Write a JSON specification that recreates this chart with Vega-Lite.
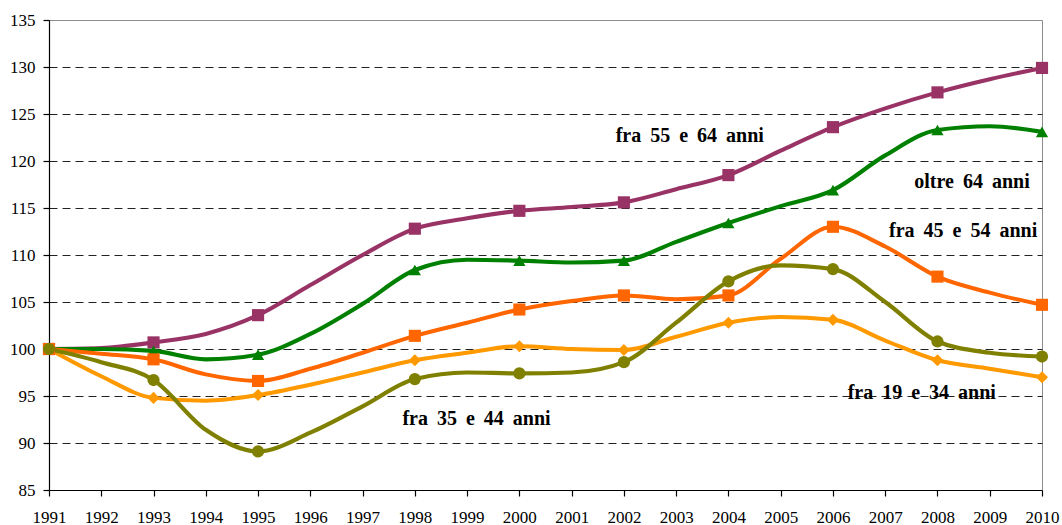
{
  "$schema": "https://vega.github.io/schema/vega-lite/v6.json",
  "autosize": "none",
  "width": 993,
  "height": 470,
  "padding": {"left": 49, "top": 20, "right": 20, "bottom": 35},
  "background": "white",
  "config": {
    "font": "Liberation Serif",
    "view": {"stroke": "#8c8c8c", "strokeWidth": 1},
    "axis": {
      "labelFont": "Liberation Serif",
      "labelFontSize": 17,
      "labelColor": "#000",
      "domainColor": "#000",
      "tickColor": "#000",
      "domainWidth": 1.2,
      "tickWidth": 1.2,
      "title": null
    },
    "text": {"font": "Liberation Serif"}
  },
  "datasets": {
    "series": [
      {"series": "fra 55 e 64 anni", "year": 1991, "value": 100},
      {"series": "fra 55 e 64 anni", "year": 1992, "value": 100.1},
      {"series": "fra 55 e 64 anni", "year": 1993, "value": 100.7},
      {"series": "fra 55 e 64 anni", "year": 1994, "value": 101.6},
      {"series": "fra 55 e 64 anni", "year": 1995, "value": 103.6},
      {"series": "fra 55 e 64 anni", "year": 1996, "value": 106.8},
      {"series": "fra 55 e 64 anni", "year": 1997, "value": 110.0},
      {"series": "fra 55 e 64 anni", "year": 1998, "value": 112.8},
      {"series": "fra 55 e 64 anni", "year": 1999, "value": 113.9},
      {"series": "fra 55 e 64 anni", "year": 2000, "value": 114.7},
      {"series": "fra 55 e 64 anni", "year": 2001, "value": 115.1},
      {"series": "fra 55 e 64 anni", "year": 2002, "value": 115.6},
      {"series": "fra 55 e 64 anni", "year": 2003, "value": 117.0},
      {"series": "fra 55 e 64 anni", "year": 2004, "value": 118.5},
      {"series": "fra 55 e 64 anni", "year": 2005, "value": 121.1},
      {"series": "fra 55 e 64 anni", "year": 2006, "value": 123.6},
      {"series": "fra 55 e 64 anni", "year": 2007, "value": 125.6},
      {"series": "fra 55 e 64 anni", "year": 2008, "value": 127.3},
      {"series": "fra 55 e 64 anni", "year": 2009, "value": 128.7},
      {"series": "fra 55 e 64 anni", "year": 2010, "value": 129.9},
      {"series": "oltre 64 anni", "year": 1991, "value": 100},
      {"series": "oltre 64 anni", "year": 1992, "value": 100.0},
      {"series": "oltre 64 anni", "year": 1993, "value": 99.8},
      {"series": "oltre 64 anni", "year": 1994, "value": 98.9},
      {"series": "oltre 64 anni", "year": 1995, "value": 99.4},
      {"series": "oltre 64 anni", "year": 1996, "value": 101.6},
      {"series": "oltre 64 anni", "year": 1997, "value": 104.8},
      {"series": "oltre 64 anni", "year": 1998, "value": 108.4},
      {"series": "oltre 64 anni", "year": 1999, "value": 109.5},
      {"series": "oltre 64 anni", "year": 2000, "value": 109.4},
      {"series": "oltre 64 anni", "year": 2001, "value": 109.2},
      {"series": "oltre 64 anni", "year": 2002, "value": 109.4},
      {"series": "oltre 64 anni", "year": 2003, "value": 111.4},
      {"series": "oltre 64 anni", "year": 2004, "value": 113.4},
      {"series": "oltre 64 anni", "year": 2005, "value": 115.2},
      {"series": "oltre 64 anni", "year": 2006, "value": 116.9},
      {"series": "oltre 64 anni", "year": 2007, "value": 120.6},
      {"series": "oltre 64 anni", "year": 2008, "value": 123.3},
      {"series": "oltre 64 anni", "year": 2009, "value": 123.7},
      {"series": "oltre 64 anni", "year": 2010, "value": 123.1},
      {"series": "fra 45 e 54 anni", "year": 1991, "value": 100},
      {"series": "fra 45 e 54 anni", "year": 1992, "value": 99.5},
      {"series": "fra 45 e 54 anni", "year": 1993, "value": 98.9},
      {"series": "fra 45 e 54 anni", "year": 1994, "value": 97.3},
      {"series": "fra 45 e 54 anni", "year": 1995, "value": 96.6},
      {"series": "fra 45 e 54 anni", "year": 1996, "value": 97.9},
      {"series": "fra 45 e 54 anni", "year": 1997, "value": 99.6},
      {"series": "fra 45 e 54 anni", "year": 1998, "value": 101.4},
      {"series": "fra 45 e 54 anni", "year": 1999, "value": 102.8},
      {"series": "fra 45 e 54 anni", "year": 2000, "value": 104.2},
      {"series": "fra 45 e 54 anni", "year": 2001, "value": 105.1},
      {"series": "fra 45 e 54 anni", "year": 2002, "value": 105.7},
      {"series": "fra 45 e 54 anni", "year": 2003, "value": 105.3},
      {"series": "fra 45 e 54 anni", "year": 2004, "value": 105.7},
      {"series": "fra 45 e 54 anni", "year": 2005, "value": 109.6},
      {"series": "fra 45 e 54 anni", "year": 2006, "value": 113.0},
      {"series": "fra 45 e 54 anni", "year": 2007, "value": 110.9},
      {"series": "fra 45 e 54 anni", "year": 2008, "value": 107.7},
      {"series": "fra 45 e 54 anni", "year": 2009, "value": 106.0},
      {"series": "fra 45 e 54 anni", "year": 2010, "value": 104.7},
      {"series": "fra 19 e 34 anni", "year": 1991, "value": 100},
      {"series": "fra 19 e 34 anni", "year": 1992, "value": 97.1},
      {"series": "fra 19 e 34 anni", "year": 1993, "value": 94.8},
      {"series": "fra 19 e 34 anni", "year": 1994, "value": 94.5},
      {"series": "fra 19 e 34 anni", "year": 1995, "value": 95.1},
      {"series": "fra 19 e 34 anni", "year": 1996, "value": 96.2},
      {"series": "fra 19 e 34 anni", "year": 1997, "value": 97.5},
      {"series": "fra 19 e 34 anni", "year": 1998, "value": 98.8},
      {"series": "fra 19 e 34 anni", "year": 1999, "value": 99.6},
      {"series": "fra 19 e 34 anni", "year": 2000, "value": 100.3},
      {"series": "fra 19 e 34 anni", "year": 2001, "value": 100.0},
      {"series": "fra 19 e 34 anni", "year": 2002, "value": 99.9},
      {"series": "fra 19 e 34 anni", "year": 2003, "value": 101.3},
      {"series": "fra 19 e 34 anni", "year": 2004, "value": 102.8},
      {"series": "fra 19 e 34 anni", "year": 2005, "value": 103.4},
      {"series": "fra 19 e 34 anni", "year": 2006, "value": 103.1},
      {"series": "fra 19 e 34 anni", "year": 2007, "value": 100.9},
      {"series": "fra 19 e 34 anni", "year": 2008, "value": 98.8},
      {"series": "fra 19 e 34 anni", "year": 2009, "value": 97.9},
      {"series": "fra 19 e 34 anni", "year": 2010, "value": 97.0},
      {"series": "fra 35 e 44 anni", "year": 1991, "value": 100},
      {"series": "fra 35 e 44 anni", "year": 1992, "value": 98.6},
      {"series": "fra 35 e 44 anni", "year": 1993, "value": 96.7},
      {"series": "fra 35 e 44 anni", "year": 1994, "value": 91.4},
      {"series": "fra 35 e 44 anni", "year": 1995, "value": 89.1},
      {"series": "fra 35 e 44 anni", "year": 1996, "value": 91.1},
      {"series": "fra 35 e 44 anni", "year": 1997, "value": 93.9},
      {"series": "fra 35 e 44 anni", "year": 1998, "value": 96.8},
      {"series": "fra 35 e 44 anni", "year": 1999, "value": 97.5},
      {"series": "fra 35 e 44 anni", "year": 2000, "value": 97.4},
      {"series": "fra 35 e 44 anni", "year": 2001, "value": 97.5},
      {"series": "fra 35 e 44 anni", "year": 2002, "value": 98.6},
      {"series": "fra 35 e 44 anni", "year": 2003, "value": 102.8},
      {"series": "fra 35 e 44 anni", "year": 2004, "value": 107.2},
      {"series": "fra 35 e 44 anni", "year": 2005, "value": 108.9},
      {"series": "fra 35 e 44 anni", "year": 2006, "value": 108.5},
      {"series": "fra 35 e 44 anni", "year": 2007, "value": 105.0},
      {"series": "fra 35 e 44 anni", "year": 2008, "value": 100.8},
      {"series": "fra 35 e 44 anni", "year": 2009, "value": 99.6},
      {"series": "fra 35 e 44 anni", "year": 2010, "value": 99.2}
    ],
    "labels": [
      {"label": "fra\u2009 55\u2009 e\u2009 64\u2009 anni", "year": 2003.26, "value": 122.7},
      {"label": "oltre\u2009 64\u2009 anni", "year": 2008.66, "value": 117.8},
      {"label": "fra\u2009 45\u2009 e\u2009 54\u2009 anni", "year": 2008.49, "value": 112.6},
      {"label": "fra\u2009 19\u2009 e\u2009 34\u2009 anni", "year": 2007.7, "value": 95.3},
      {"label": "fra\u2009 35\u2009 e\u2009 44\u2009 anni", "year": 1999.18, "value": 92.6}
    ]
  },
  "encoding": {
    "x": {
      "field": "year", "type": "quantitative",
      "scale": {"domain": [1991, 2010], "nice": false, "zero": false},
      "axis": {
        "values": [1991,1992,1993,1994,1995,1996,1997,1998,1999,2000,2001,2002,2003,2004,2005,2006,2007,2008,2009,2010],
        "format": "d", "grid": false, "tickSize": 6, "labelPadding": 13, "labelFlush": false, "labelOverlap": false,
        "labelFont": "Liberation Serif", "labelFontSize": 17
      }
    },
    "y": {
      "field": "value", "type": "quantitative",
      "scale": {"domain": [85, 135], "nice": false, "zero": false},
      "axis": {
        "values": [85,90,95,100,105,110,115,120,125,130,135],
        "tickSize": 6, "labelPadding": 8, "labelFlush": false,
        "labelFont": "Liberation Serif", "labelFontSize": 17,
        "grid": true,
        "gridColor": {"condition": {"test": "datum.value == 135 || datum.value == 85", "value": "transparent"}, "value": "#222"},
        "gridDash": [8, 5],
        "gridWidth": 1
      }
    }
  },
  "layer": [
    {
      "data": {"name": "series"},
      "mark": {"type": "line", "interpolate": "monotone"},
      "encoding": {
        "color": {
          "field": "series", "type": "nominal", "legend": null,
          "scale": {
            "domain": ["fra 19 e 34 anni", "fra 45 e 54 anni", "fra 55 e 64 anni", "oltre 64 anni", "fra 35 e 44 anni"],
            "range": ["#FF9900", "#FF6600", "#993366", "#008000", "#808000"]
          }
        },
        "strokeWidth": {
          "field": "series", "type": "nominal", "legend": null,
          "scale": {
            "domain": ["fra 19 e 34 anni", "fra 45 e 54 anni", "fra 55 e 64 anni", "oltre 64 anni", "fra 35 e 44 anni"],
            "range": [4, 4.2, 2.3, 2.3, 4]
          }
        },
        "order": {"field": "year", "type": "quantitative"}
      }
    },
    {
      "data": {"name": "series"},
      "transform": [
        {"filter": "indexof([1991,1993,1995,1998,2000,2002,2004,2006,2008,2010], datum.year) >= 0"}
      ],
      "mark": {"type": "point", "filled": true, "opacity": 1},
      "encoding": {
        "color": {
          "field": "series", "type": "nominal", "legend": null,
          "scale": {
            "domain": ["fra 19 e 34 anni", "fra 45 e 54 anni", "fra 55 e 64 anni", "oltre 64 anni", "fra 35 e 44 anni"],
            "range": ["#FF9900", "#FF6600", "#993366", "#008000", "#808000"]
          }
        },
        "shape": {
          "field": "series", "type": "nominal", "legend": null,
          "scale": {
            "domain": ["fra 19 e 34 anni", "fra 45 e 54 anni", "fra 55 e 64 anni", "oltre 64 anni", "fra 35 e 44 anni"],
            "range": ["diamond", "square", "square", "triangle-up", "circle"]
          }
        },
        "size": {
          "field": "series", "type": "nominal", "legend": null,
          "scale": {
            "domain": ["fra 19 e 34 anni", "fra 45 e 54 anni", "fra 55 e 64 anni", "oltre 64 anni", "fra 35 e 44 anni"],
            "range": [145, 150, 140, 180, 125]
          }
        }
      }
    },
    {
      "data": {"name": "labels"},
      "mark": {"type": "text", "font": "Liberation Serif", "fontWeight": "bold", "fontSize": 20, "align": "center", "baseline": "middle", "color": "#000"},
      "encoding": {
        "text": {"field": "label", "type": "nominal"}
      }
    }
  ]
}
